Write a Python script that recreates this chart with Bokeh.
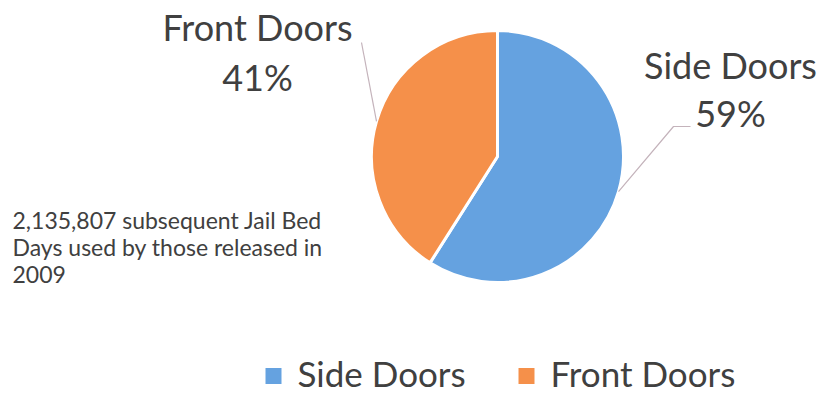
import math
from bokeh.plotting import figure
from bokeh.models import Range1d, ColumnDataSource
from bokeh.core.properties import value
from bokeh.embed import file_html
from bokeh.resources import INLINE

# Data
categories = ["Side Doors", "Front Doors"]
shares = [59, 41]
colors = ["#65a2e0", "#f5904a"]
note_lines = ["2,135,807 subsequent Jail Bed", "Days used by those released in", "2009"]

W, H = 820, 393
FONT = "Lato"
TEXT_COLOR = "#404040"
LABEL_FS = 36
LEGEND_FS = 35
NOTE_FS = 23


def py(y):
    # convert a top-down pixel row to the figure's y-up coordinate
    return H - y


def base(y, fs):
    # baseline row, nudged for how the svg text is anchored
    return py(y - 0.36 * fs)


p = figure(width=W, height=H, x_range=Range1d(0, W), y_range=Range1d(0, H),
           output_backend="svg", toolbar_location=None, min_border=0,
           outline_line_color=None, background_fill_color="white")
p.axis.visible = False
p.grid.visible = False

# Pie wedges: start at 12 o'clock, run clockwise
cx, cy, r = 497, py(156), 126
total = sum(shares)
starts, ends, mids = [], [], []
a = math.pi / 2
for s in shares:
    span = 2 * math.pi * s / total
    starts.append(a - span)
    ends.append(a)
    mids.append(a - span / 2)
    a -= span

src = ColumnDataSource(dict(start=starts, end=ends, color=colors, cat=categories))
p.wedge(x=cx, y=cy, radius=r, start_angle="start", end_angle="end",
        fill_color="color", line_color="white", line_width=3, source=src)

# Data labels with leader lines from the slice mid-angles
label_pos = {
    "Side Doors": dict(x=730, y1=77, y2=125, elbow=(673, 126), end=(690, 126)),
    "Front Doors": dict(x=257, y1=39, y2=89, elbow=None, end=(361, 42)),
}
for cat, share, mid in zip(categories, shares, mids):
    lp = label_pos[cat]
    sx = cx + r * math.cos(mid)
    sy = cy + r * math.sin(mid)
    xs, ys = [sx], [sy]
    if lp["elbow"]:
        xs.append(lp["elbow"][0]); ys.append(py(lp["elbow"][1]))
    xs.append(lp["end"][0]); ys.append(py(lp["end"][1]))
    p.line(xs, ys, line_color="#c4b3bb", line_width=1.2)
    p.text(x=[lp["x"], lp["x"]], y=[base(lp["y1"], LABEL_FS), base(lp["y2"], LABEL_FS)],
           text=[cat, f"{share}%"], text_font=value(FONT), text_font_size=f"{LABEL_FS}px",
           text_color=TEXT_COLOR, text_align="center", text_baseline="alphabetic")

# Annotation
p.text(x=[12] * len(note_lines),
       y=[base(228 + 27 * i, NOTE_FS) for i in range(len(note_lines))],
       text=note_lines, text_font=value(FONT), text_font_size=f"{NOTE_FS}px",
       text_color=TEXT_COLOR, text_align="left", text_baseline="alphabetic")

# Legend
leg_x = [265, 518]
p.rect(x=[x + 8 for x in leg_x], y=[py(375.5)] * 2, width=16, height=16,
       fill_color=colors, line_color=None)
p.text(x=[x + 32 for x in leg_x], y=[base(385, LEGEND_FS)] * 2, text=categories,
       text_font=value(FONT), text_font_size=f"{LEGEND_FS}px", text_color=TEXT_COLOR,
       text_align="left", text_baseline="alphabetic")

open("out.html", "w").write(file_html(p, INLINE))
